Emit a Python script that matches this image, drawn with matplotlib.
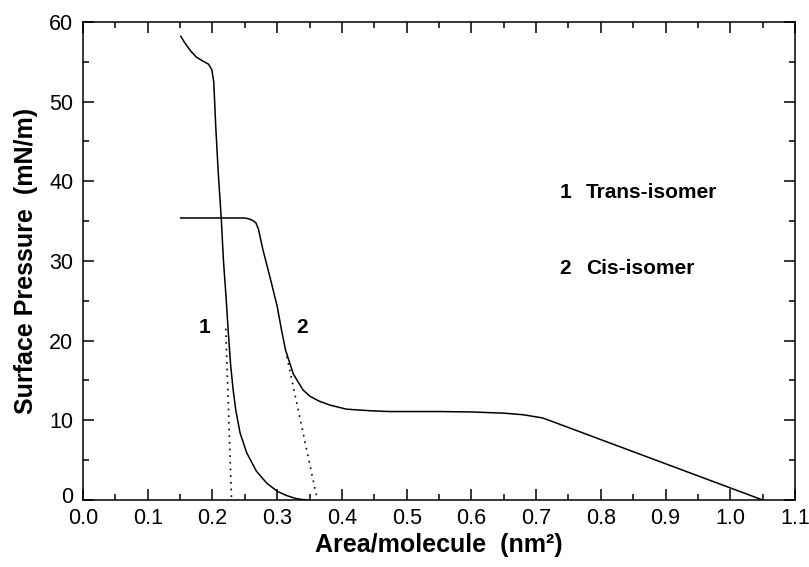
import matplotlib
matplotlib.use("Agg")
import matplotlib.pyplot as plt
from matplotlib.ticker import MultipleLocator

plt.rcParams['font.family'] = ['Liberation Sans', 'DejaVu Sans']

# curve 1: trans-isomer
trans_area = [0.151, 0.158, 0.166, 0.175, 0.185, 0.194, 0.199, 0.202, 0.205,
              0.209, 0.2135, 0.217, 0.221, 0.2245, 0.228, 0.232, 0.236, 0.2427,
              0.253, 0.268, 0.284, 0.300, 0.313, 0.328, 0.339, 0.35]
trans_pi = [58.2, 57.3, 56.4, 55.6, 55.1, 54.7, 54.0, 52.5, 47.0,
            41.0, 35.5, 30.0, 25.5, 21.0, 17.0, 13.8, 11.3, 8.4,
            5.9, 3.6, 2.1, 1.1, 0.6, 0.2, 0.05, 0.0]

# curve 2: cis-isomer
cis_area = [0.151, 0.20, 0.249, 0.256, 0.262, 0.267, 0.271, 0.278, 0.290,
            0.300, 0.307, 0.313, 0.325, 0.34, 0.351, 0.365, 0.382, 0.407,
            0.444, 0.474, 0.5, 0.55, 0.6, 0.65, 0.68, 0.71, 0.73, 1.05]
cis_pi = [35.4, 35.4, 35.4, 35.3, 35.1, 34.8, 34.0, 31.4, 27.6,
          24.3, 21.2, 18.8, 15.8, 13.8, 13.0, 12.4, 11.9, 11.4,
          11.2, 11.1, 11.1, 11.1, 11.05, 10.9, 10.7, 10.3, 9.7, 0.0]

# extrapolation (dotted) lines
ext1_area = [0.2205, 0.2295]
ext1_pi = [21.5, 0.0]
ext2_area = [0.315, 0.362]
ext2_pi = [18.0, 0.0]

fig = plt.figure(figsize=(8.09, 5.67), dpi=100)
ax = fig.add_axes([0.1026, 0.1182, 0.8801, 0.843])

ax.plot(trans_area, trans_pi, color='black', lw=1.1)
ax.plot(cis_area, cis_pi, color='black', lw=1.1)
ax.plot(ext1_area, ext1_pi, color='black', lw=1.2, ls=(0, (1, 3)))
ax.plot(ext2_area, ext2_pi, color='black', lw=1.2, ls=(0, (1, 3)))

ax.text(0.187, 21.7, '1', fontsize=15, fontweight='bold', ha='center', va='center')
ax.text(0.338, 21.7, '2', fontsize=15, fontweight='bold', ha='center', va='center')
ax.text(0.745, 38.6, '1', fontsize=15, fontweight='bold', ha='center', va='center')
ax.text(0.777, 38.6, 'Trans-isomer', fontsize=15, fontweight='bold', ha='left', va='center')
ax.text(0.745, 29.1, '2', fontsize=15, fontweight='bold', ha='center', va='center')
ax.text(0.777, 29.1, 'Cis-isomer', fontsize=15, fontweight='bold', ha='left', va='center')

ax.set_xlim(0.0, 1.1)
ax.set_ylim(0, 60)
ax.xaxis.set_major_locator(MultipleLocator(0.1))
ax.xaxis.set_minor_locator(MultipleLocator(0.05))
ax.yaxis.set_major_locator(MultipleLocator(10))
ax.yaxis.set_minor_locator(MultipleLocator(5))
ax.xaxis.set_major_formatter(plt.FuncFormatter(lambda v, p: f"{v:.1f}"))
# the "0" of the y axis is drawn separately, a little higher
ax.yaxis.set_major_formatter(plt.FuncFormatter(lambda v, p: '' if v == 0 else f"{v:.0f}"))
ax.tick_params(which='both', direction='in', top=True, right=True, width=1.1)
ax.tick_params(which='major', length=8, labelsize=15.5)
ax.tick_params(axis='x', which='major', pad=5.5)
ax.tick_params(axis='y', which='major', pad=7)
ax.tick_params(which='minor', length=4)
for s in ax.spines.values():
    s.set_linewidth(1.1)

ax.annotate('0', xy=(0, 0), xycoords=('axes fraction', 'data'),
            xytext=(-7, 3.5), textcoords='offset points',
            ha='right', va='center_baseline', fontsize=15.5)

ax.set_xlabel('Area/molecule  (nm²)', fontsize=18, fontweight='bold', labelpad=3)
ax.set_ylabel('Surface Pressure  (mN/m)', fontsize=18, fontweight='bold', labelpad=8)

fig.savefig('out.png', dpi=100)
